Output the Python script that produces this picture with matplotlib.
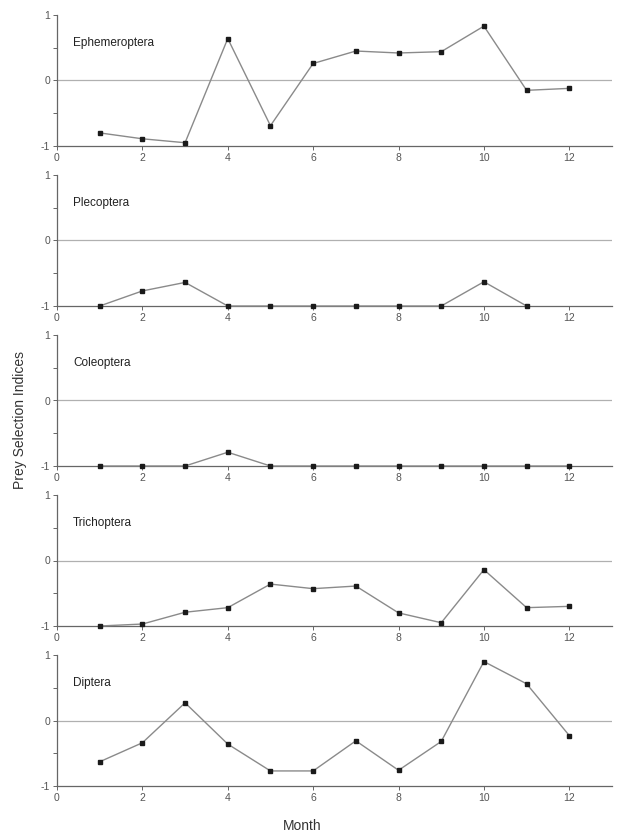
import matplotlib
matplotlib.use("Agg")
import matplotlib.pyplot as plt
import numpy as np

plt.rcParams["font.family"] = ["Liberation Sans", "DejaVu Sans"]
plt.rcParams["axes.unicode_minus"] = False

months = np.arange(1, 13)
taxa = ["Ephemeroptera", "Plecoptera", "Coleoptera", "Trichoptera", "Diptera"]
ephemeroptera = [-0.80, -0.89, -0.95, 0.64, -0.69, 0.26, 0.45, 0.42, 0.44, 0.83, -0.15, -0.12]
plecoptera = [-1.0, -0.77, -0.64, -1.0, -1.0, -1.0, -1.0, -1.0, -1.0, -0.63, -1.0]
coleoptera = [-1.0, -1.0, -1.0, -0.79, -1.0, -1.0, -1.0, -1.0, -1.0, -1.0, -1.0, -1.0]
trichoptera = [-1.0, -0.97, -0.79, -0.72, -0.36, -0.43, -0.39, -0.80, -0.95, -0.14, -0.72, -0.70]
diptera = [-0.63, -0.34, 0.27, -0.36, -0.77, -0.77, -0.31, -0.76, -0.32, 0.90, 0.56, -0.23]
series = [ephemeroptera, plecoptera, coleoptera, trichoptera, diptera]

W, H = 621, 838
fig = plt.figure(figsize=(W / 100, H / 100), dpi=100)

left_px, right_px = 57, 612
panel_h = 131
axis_grey = "#666666"

for i, (name, values) in enumerate(zip(taxa, series)):
    bottom_px = 146 + 160 * i
    ax = fig.add_axes([left_px / W, 1 - bottom_px / H,
                       (right_px - left_px) / W, panel_h / H])
    x = months[:len(values)]
    ax.plot(x, values, color="#8a8a8a", linewidth=1.0, zorder=3,
            clip_on=False)
    ax.plot(x, values, linestyle="none", marker="s", markersize=2.4,
            color="#1a1a1a", zorder=4, clip_on=False)
    ax.axhline(0, color="#b0b0b0", linewidth=0.9, zorder=1)
    ax.set_xlim(0, 13)
    ax.set_ylim(-1, 1)
    ax.set_xticks(range(0, 13, 2))
    ax.set_yticks([-1, 0, 1])
    ax.set_yticks([-0.5, 0.5], minor=True)
    for s in ["top", "right"]:
        ax.spines[s].set_visible(False)
    for s in ["left", "bottom"]:
        ax.spines[s].set_color(axis_grey)
        ax.spines[s].set_linewidth(0.9)
    ax.tick_params(axis="both", which="both", colors=axis_grey,
                   labelsize=7.5, length=3, width=0.7, pad=2)
    ax.tick_params(axis="both", labelcolor="#555555")
    ax.patch.set_alpha(0)
    ax.text(0.38, 0.58, name, fontsize=8.5, color="#222222",
            ha="left", va="center", transform=ax.transData)

fig.text(20 / W, 1 - 420 / H, "Prey Selection Indices", rotation=90,
         ha="center", va="center", fontsize=10, color="#333333")
fig.text(302 / W, 1 - 826 / H, "Month",
         ha="center", va="center", fontsize=10, color="#333333")

fig.savefig("out.png", dpi=100)
